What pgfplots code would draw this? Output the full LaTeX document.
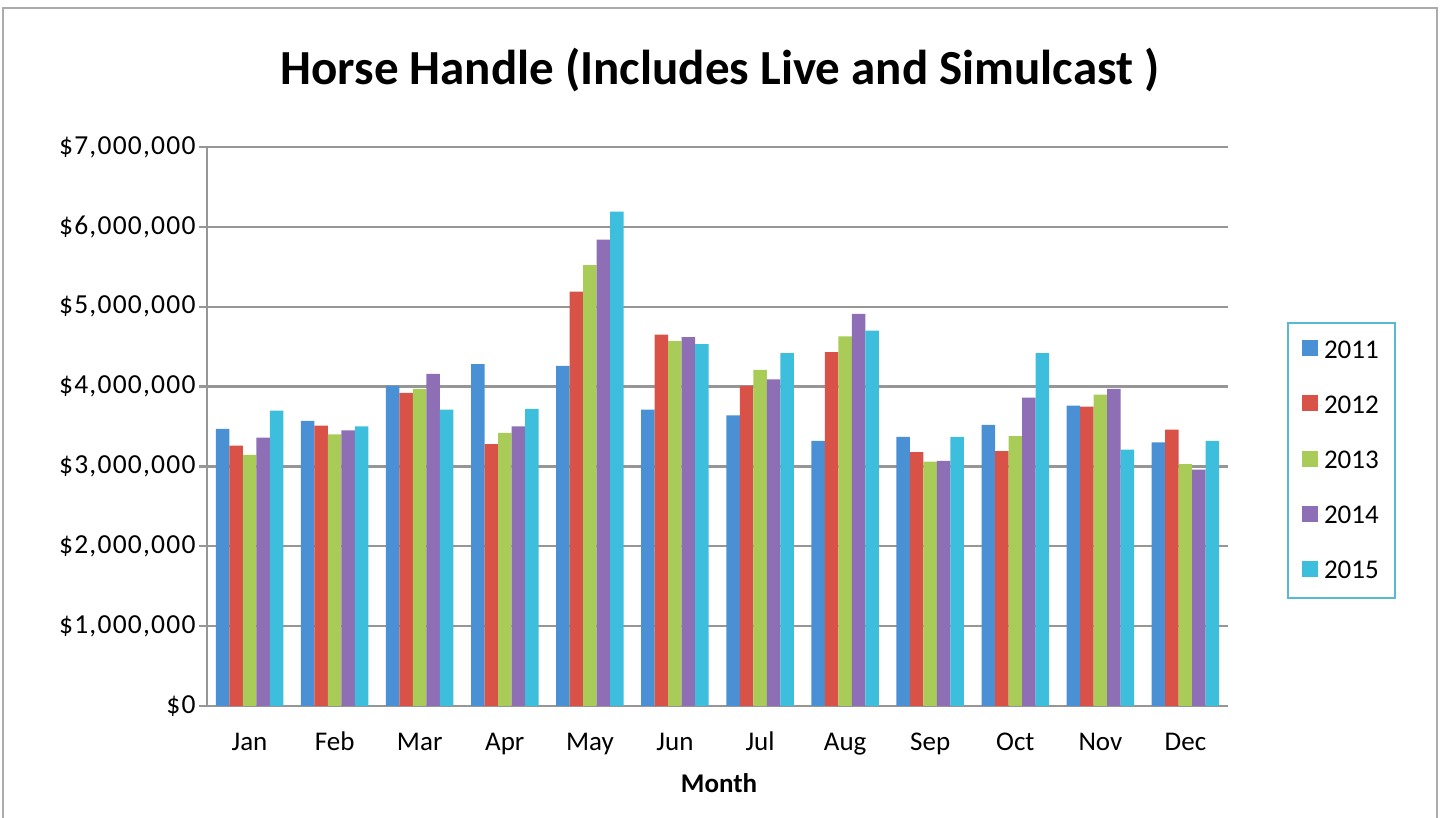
\documentclass[border=0pt]{standalone}
\usepackage{fontspec}
\setmainfont{Carlito}
\newfontfamily\ytfont[LetterSpace=4.5]{Carlito}
\usepackage{pgfplots}
\pgfplotsset{compat=1.18}
\definecolor{c11}{RGB}{74,144,212}
\definecolor{c12}{RGB}{217,82,72}
\definecolor{c13}{RGB}{169,204,88}
\definecolor{c14}{RGB}{142,111,182}
\definecolor{c15}{RGB}{61,190,220}
\definecolor{gridc}{RGB}{150,150,150}
\definecolor{legc}{RGB}{90,185,210}
\begin{document}
\begin{tikzpicture}[x=1pt,y=1pt]
\path[use as bounding box] (0,0) rectangle (1445,818);
\draw[gridc!80, line width=2pt] (3,-2) -- (3,810) -- (1437,810) -- (1437,-2);
\node[font=\fontsize{49}{56}\selectfont\bfseries] at (720,748) {Horse Handle (Includes Live and Simulcast )};
\node[font=\fontsize{27}{32}\selectfont\bfseries] at (719,35) {Month};
\begin{axis}[
  at={(207pt,112pt)}, anchor=south west,
  scale only axis, width=1021pt, height=559pt,
  ybar=0pt, bar width=13.5pt,
  xmin=-0.5, xmax=11.5, ymin=0, ymax=7000000,
  enlarge x limits=false,
  axis x line*=bottom, axis y line*=left,
  axis line style={draw=gridc, line width=2.2pt},
  xtick={0,...,11},
  xticklabels={Jan,Feb,Mar,Apr,May,Jun,Jul,Aug,Sep,Oct,Nov,Dec},
  x tick style={draw=none},
  extra x ticks={-0.5,0.5,...,11.5},
  extra x tick labels={},
  extra x tick style={tick style={draw=gridc, line width=2.2pt}, major tick length=8pt, tick align=outside, grid=none},
  ytick={0,1000000,2000000,3000000,4000000,5000000,6000000,7000000},
  scaled y ticks=false,
  yticklabel={\$\pgfmathprintnumber[fixed,1000 sep={,}]{\tick}},
  y tick style={draw=gridc, line width=2.2pt},
  major tick length=8pt, tick align=outside,
  ymajorgrids, major grid style={draw=gridc, line width=2.2pt},
  /pgf/number format/assume math mode=true,
  tick label style={font=\fontsize{27}{32}\selectfont},
  yticklabel style={font=\fontsize{27.5}{32}\selectfont\ytfont},
  xticklabel style={anchor=north, text height=19pt, text depth=6pt, yshift=-14pt},
  legend style={at={(1.0578,0.687)}, anchor=north west, draw=legc, line width=2pt,
    font=\fontsize{27}{32}\selectfont, row sep=32pt, inner xsep=14pt, inner ysep=16pt},
  legend cell align=left,
  legend image code/.code={\path (0pt,0pt) -- (20pt,0pt); \fill[#1] (0pt,-6pt) rectangle (16pt,10pt);},
]
\addplot[fill=c11, draw=none] coordinates {(0,3470000) (1,3570000) (2,4010000) (3,4280000) (4,4260000) (5,3710000) (6,3640000) (7,3320000) (8,3370000) (9,3520000) (10,3760000) (11,3300000)};
\addplot[fill=c12, draw=none] coordinates {(0,3260000) (1,3510000) (2,3920000) (3,3280000) (4,5190000) (5,4650000) (6,4010000) (7,4430000) (8,3180000) (9,3190000) (10,3750000) (11,3460000)};
\addplot[fill=c13, draw=none] coordinates {(0,3145000) (1,3400000) (2,3970000) (3,3420000) (4,5520000) (5,4570000) (6,4210000) (7,4630000) (8,3060000) (9,3380000) (10,3900000) (11,3030000)};
\addplot[fill=c14, draw=none] coordinates {(0,3360000) (1,3450000) (2,4160000) (3,3500000) (4,5840000) (5,4620000) (6,4090000) (7,4910000) (8,3070000) (9,3860000) (10,3970000) (11,2960000)};
\addplot[fill=c15, draw=none] coordinates {(0,3700000) (1,3500000) (2,3710000) (3,3720000) (4,6190000) (5,4530000) (6,4420000) (7,4700000) (8,3370000) (9,4420000) (10,3210000) (11,3320000)};
\legend{2011,2012,2013,2014,2015}
\end{axis}
\end{tikzpicture}
\end{document}
